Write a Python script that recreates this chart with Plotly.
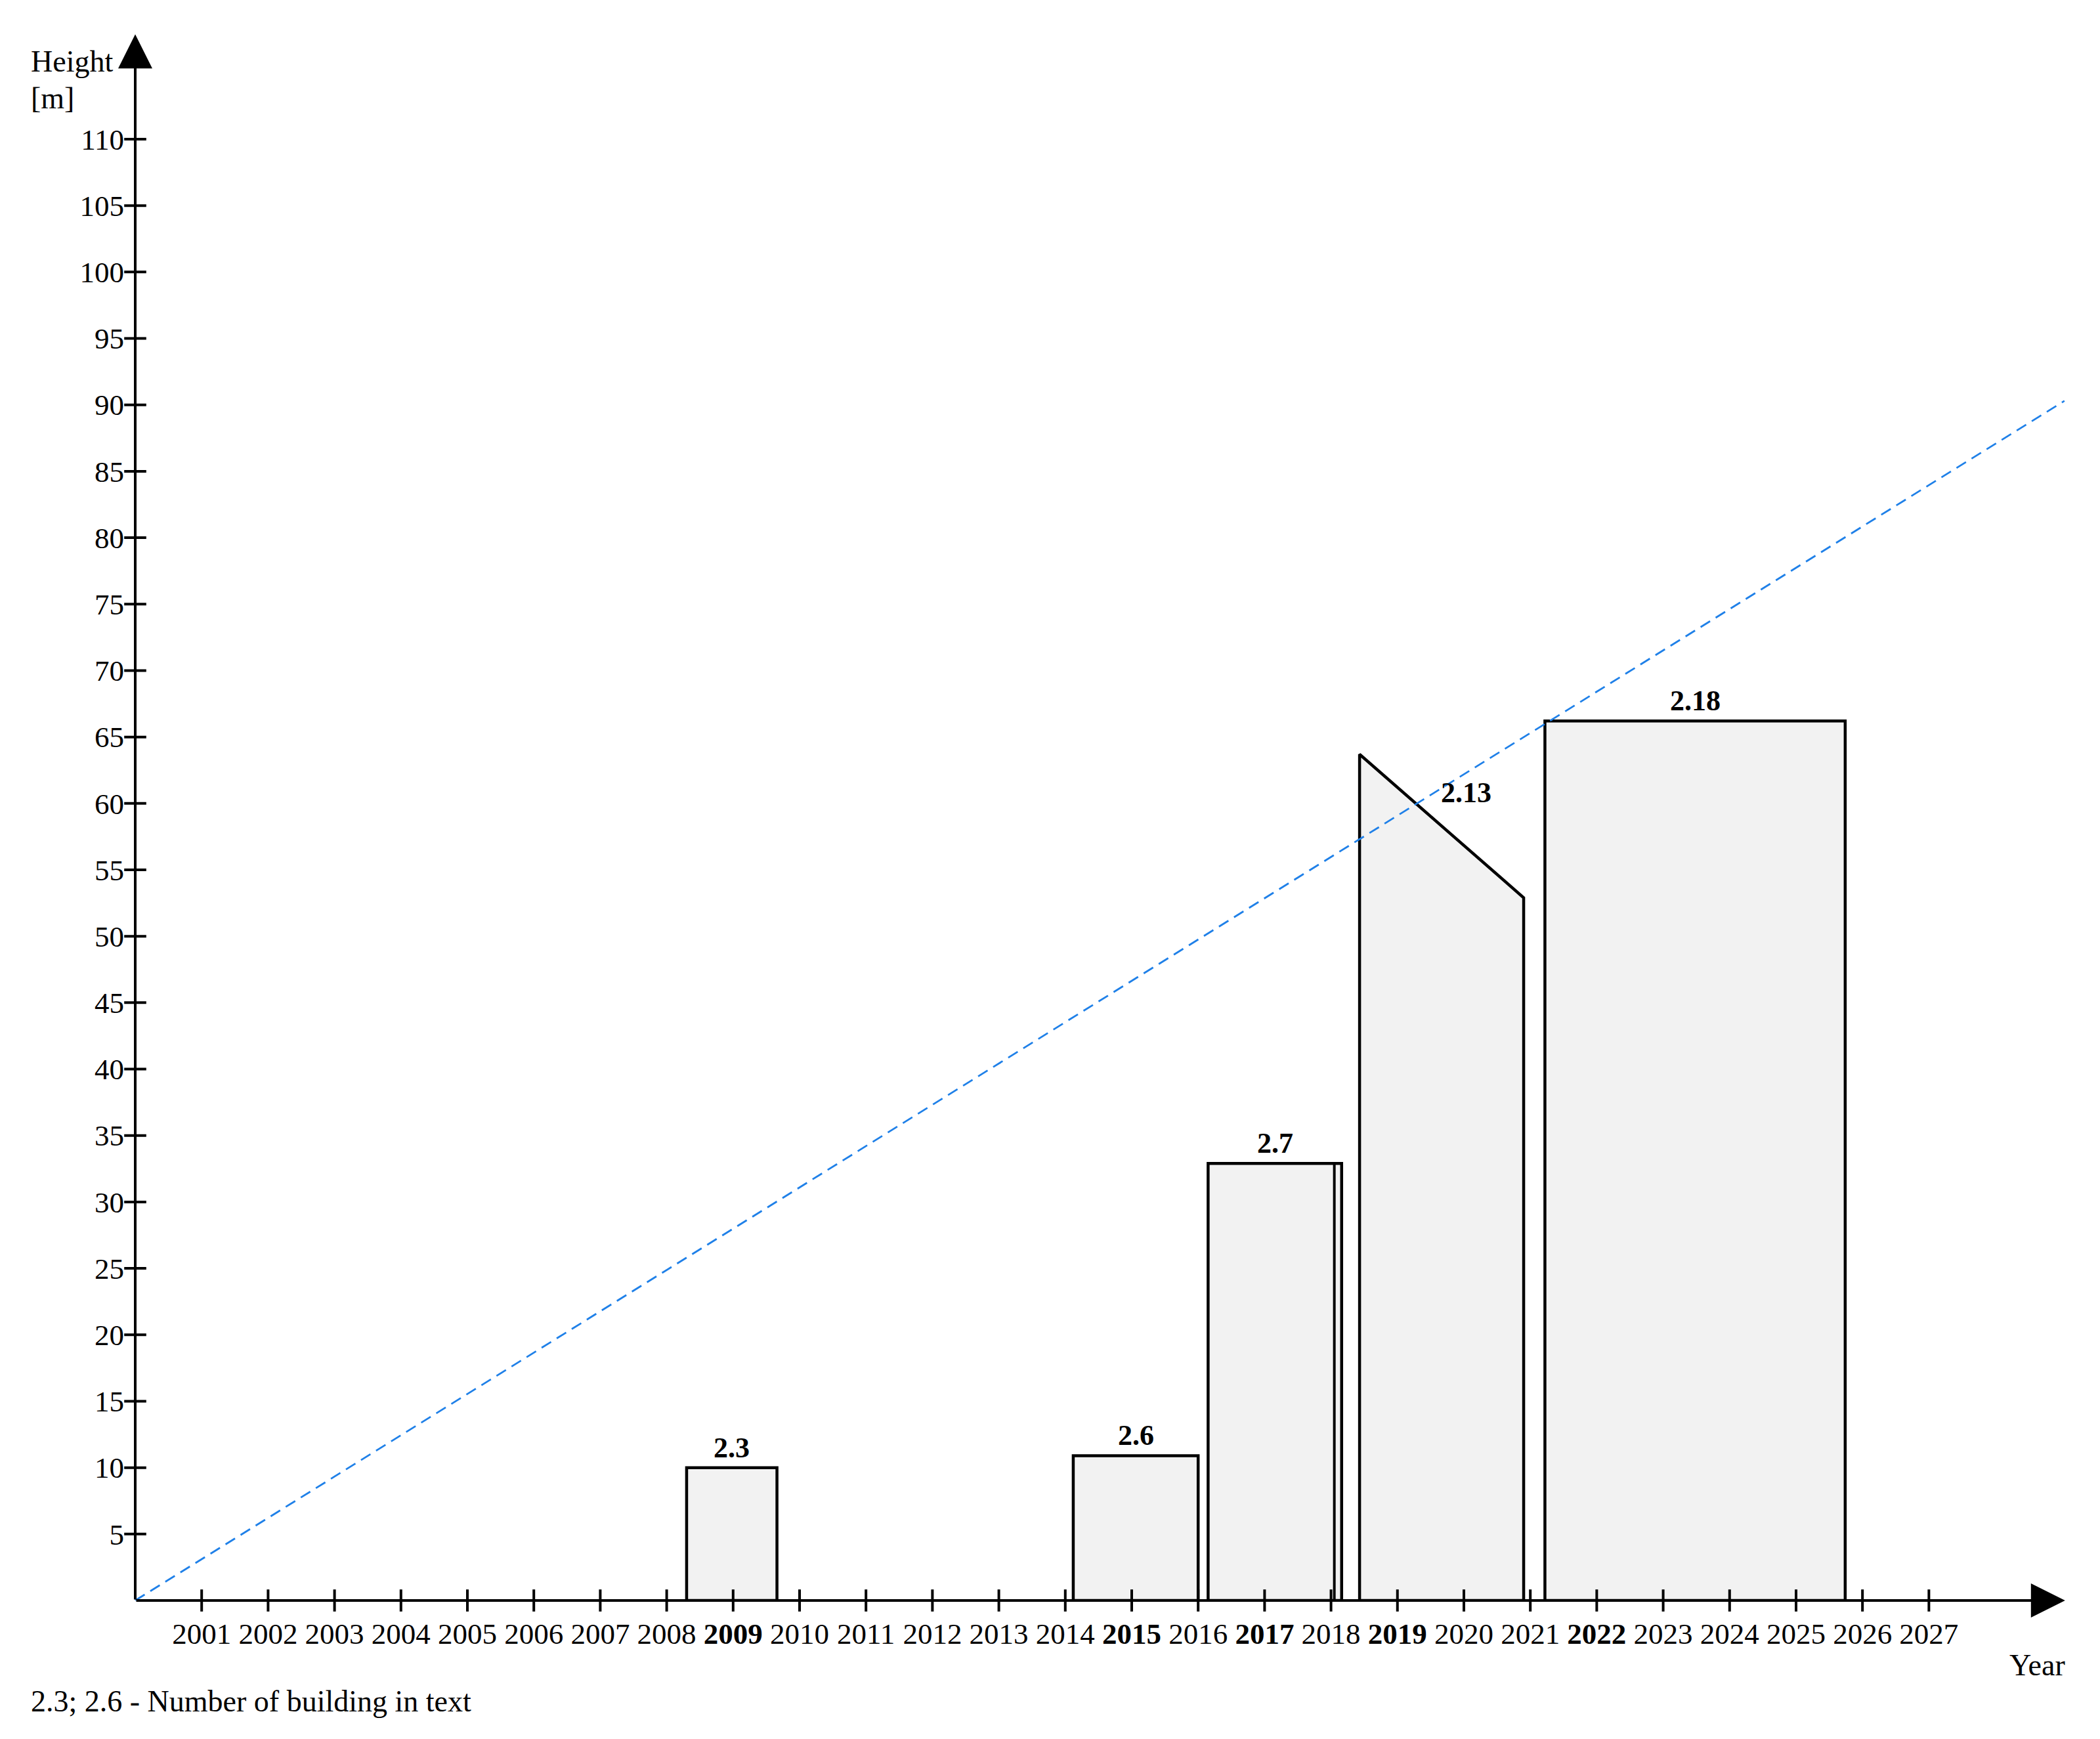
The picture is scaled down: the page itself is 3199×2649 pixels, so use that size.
import plotly.graph_objects as go

# axis ticks
years = list(range(2001, 2028))
bold_years = [2009, 2015, 2017, 2019, 2022]
height_ticks = list(range(5, 111, 5))

# buildings: footprint on the time axis and roof heights [m]
buildings = ["2.3", "2.6", "2.7", "2.13", "2.18"]
start_year = [2008.30, 2014.12, 2016.15, 2018.43, 2021.22]
end_year = [2009.66, 2016.00, 2018.16, 2020.90, 2025.74]
start_height = [10.0, 10.9, 32.9, 63.7, 66.2]
end_height = [10.0, 10.9, 32.9, 52.9, 66.2]

# 2.7 has a second wall just inside its right edge
inner_wall_year = [2018.05]
inner_wall_height = [32.9]

# dashed trend line
trend_year = [2000, 2029.04]
trend_height = [0, 90.3]

FONT = "Liberation Serif"
W, H = 3199, 2649
PAGE_OFF = 8                         # body margin of the html page
PLOT_L, PLOT_T, PLOT_B = 206, 40, 2438  # plot area in page pixels
PLOT_W = 2955
PLOT_H = PLOT_B - PLOT_T


def paper(px, py):
    # page pixel position -> paper coords
    return (px - PLOT_L) / PLOT_W, (PLOT_B - py) / PLOT_H


fig = go.Figure()

for name, xs, xe, hs, he in zip(buildings, start_year, end_year, start_height, end_height):
    fig.add_trace(go.Scatter(
        x=[xs, xs, xe, xe, xs],
        y=[0, hs, he, 0, 0],
        mode="lines",
        fill="toself",
        fillcolor="#f2f2f2",
        line=dict(color="black", width=4.5),
        name=name,
        hoverinfo="skip",
    ))

for wx, wh in zip(inner_wall_year, inner_wall_height):
    fig.add_trace(go.Scatter(x=[wx, wx], y=[0, wh], mode="lines",
                             line=dict(color="black", width=4), hoverinfo="skip"))

fig.add_trace(go.Scatter(
    x=trend_year, y=trend_height, mode="lines",
    line=dict(color="#1f80e8", width=2.8, dash="17px,10px"),
    hoverinfo="skip",
))

# tick marks crossing the axes
fig.add_trace(go.Scatter(
    x=years, y=[0] * len(years), mode="markers", cliponaxis=False,
    marker=dict(symbol="line-ns", size=24, color="black", line=dict(width=4, color="black")),
    hoverinfo="skip",
))
fig.add_trace(go.Scatter(
    x=[2000] * len(height_ticks), y=height_ticks, mode="markers", cliponaxis=False,
    marker=dict(symbol="line-ew", size=24, color="black", line=dict(width=4, color="black")),
    hoverinfo="skip",
))

# axis arrows
fig.add_annotation(x=2029.05, y=0, ax=2000, ay=0, xref="x", yref="y", axref="x", ayref="y",
                   text="", showarrow=True, arrowhead=2, arrowsize=2.6, arrowwidth=4,
                   arrowcolor="black", standoff=0)
fig.add_annotation(x=2000, y=117.9, ax=2000, ay=0, xref="x", yref="y", axref="x", ayref="y",
                   text="", showarrow=True, arrowhead=2, arrowsize=2.6, arrowwidth=4,
                   arrowcolor="black", standoff=0)

# building numbers
for name, xs, xe, hs, he in zip(buildings, start_year, end_year, start_height, end_height):
    if hs != he:
        # sloped roof: number sits beside the slope
        fig.add_annotation(x=xs + 0.65 * (xe - xs), y=60.8, text=f"<b>{name}</b>",
                           showarrow=False, font=dict(family=FONT, size=44, color="black"))
    else:
        fig.add_annotation(x=(xs + xe) / 2, y=hs, text=f"<b>{name}</b>", yanchor="bottom",
                           yshift=4, showarrow=False,
                           font=dict(family=FONT, size=44, color="black"))

# axis titles and note
for txt, px, py, anchor in [("Height", 45, 93, "left"), ("[m]", 45, 150, "left"),
                            ("Year", 3103, 2536, "center"),
                            ("2.3; 2.6 - Number of building in text", 45, 2591, "left")]:
    x, y = paper(px, py)
    fig.add_annotation(x=x, y=y, xref="paper", yref="paper", text=txt, showarrow=False,
                       xanchor=anchor, yanchor="middle",
                       font=dict(family=FONT, size=46, color="black"))

ticktext = [f"<b>{y}</b>" if y in bold_years else str(y) for y in years]

fig.update_layout(
    width=W, height=H,
    margin=dict(l=PLOT_L - PAGE_OFF, t=PLOT_T - PAGE_OFF,
                r=W - (PLOT_L - PAGE_OFF) - PLOT_W, b=H - (PLOT_B - PAGE_OFF)),
    plot_bgcolor="white", paper_bgcolor="white",
    showlegend=False,
    font=dict(family=FONT, size=45, color="black"),
    xaxis=dict(range=[2000, 2029.2], tickvals=years, ticktext=ticktext,
               showgrid=False, zeroline=False, showline=False, ticks="",
               ticklabelstandoff=20, tickfont=dict(family=FONT, size=45, color="black")),
    yaxis=dict(range=[0, 118.5], tickvals=height_ticks, ticktext=[str(h) for h in height_ticks],
               showgrid=False, zeroline=False, showline=False, ticks="",
               ticklabelstandoff=16, tickfont=dict(family=FONT, size=45, color="black")),
)

fig.write_html("out.html")
